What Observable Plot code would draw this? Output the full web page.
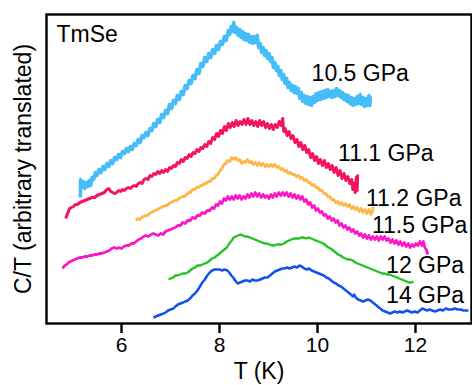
<!DOCTYPE html>
<html>
<head>
<meta charset="utf-8">
<script src="https://cdn.jsdelivr.net/npm/d3@7"></script>
<script src="https://cdn.jsdelivr.net/npm/@observablehq/plot@0.6"></script>
<style>
  html, body { margin: 0; padding: 0; background: #fff; }
</style>
</head>
<body>
<div id="chart"></div>
<script>
// Specific heat C/T of TmSe versus temperature, curves offset vertically by pressure.
// Each series: [T (K), C/T (arbitrary, translated)]
const p105 = [[5.16,126],[5.165,144],[5.19,136],[5.22,142],[5.25,135],[5.28,141],[5.31,137],[5.34,143],[5.37,138],[5.40,146],[5.43,144],[5.47,151],[5.50,148],[5.54,154],[5.58,151],[5.62,157],[5.66,154],[5.70,160],[5.74,157],[5.78,163],[5.82,160],[5.86,166],[5.90,164],[5.94,169],[5.98,166],[6.02,172],[6.06,170],[6.10,175],[6.14,172],[6.18,177],[6.22,174],[6.26,180],[6.30,178],[6.34,184],[6.38,181],[6.42,188],[6.46,186],[6.50,191],[6.54,188],[6.58,195],[6.62,193],[6.66,200],[6.70,197],[6.74,204],[6.78,201],[6.82,209],[6.86,206],[6.90,213],[6.94,210],[6.98,219],[7.02,215],[7.06,223],[7.10,220],[7.14,228],[7.18,224],[7.22,232],[7.26,229],[7.30,238],[7.34,235],[7.38,243],[7.42,240],[7.46,248],[7.50,245],[7.54,254],[7.58,250],[7.62,260],[7.66,257],[7.70,266],[7.74,262],[7.78,270],[7.82,266],[7.86,274],[7.90,270],[7.94,278],[7.98,274],[8.02,282],[8.06,279],[8.10,287],[8.14,283],[8.18,293],[8.21,289],[8.24,297],[8.27,292],[8.29,301],[8.32,291],[8.35,296],[8.38,288],[8.41,294],[8.44,286],[8.47,292],[8.50,284],[8.53,290],[8.56,283],[8.59,289],[8.62,281],[8.65,287],[8.68,280],[8.71,287],[8.74,281],[8.77,288],[8.80,276],[8.83,280],[8.86,271],[8.89,276],[8.92,268],[8.95,273],[8.98,265],[9.01,270],[9.04,262],[9.07,266],[9.10,256],[9.13,261],[9.16,253],[9.19,257],[9.22,248],[9.25,253],[9.28,244],[9.31,249],[9.34,240],[9.37,245],[9.40,236],[9.43,241],[9.46,233],[9.49,238],[9.52,231],[9.55,237],[9.58,230],[9.61,235],[9.64,225],[9.67,231],[9.70,222],[9.73,228],[9.76,220],[9.79,227],[9.82,219],[9.85,226],[9.88,218],[9.91,227],[9.94,221],[9.97,230],[10.00,223],[10.03,231],[10.06,224],[10.09,232],[10.12,225],[10.15,233],[10.18,226],[10.21,234],[10.24,227],[10.27,232],[10.30,226],[10.33,233],[10.36,227],[10.39,235],[10.42,228],[10.45,233],[10.48,226],[10.51,231],[10.54,224],[10.57,229],[10.60,222],[10.63,228],[10.66,220],[10.69,226],[10.72,218],[10.75,225],[10.78,219],[10.81,227],[10.84,220],[10.87,229],[10.90,219],[10.93,226],[10.96,217],[10.99,225],[11.02,218],[11.05,228],[11.07,218],[11.08,227]];

const p111 = [[4.86,105],[4.90,110],[4.94,115],[4.98,116],[5.02,117],[5.06,119],[5.10,119],[5.15,121],[5.20,122],[5.25,123],[5.30,124],[5.35,125],[5.40,126],[5.45,126],[5.50,128],[5.55,129],[5.60,130],[5.65,131],[5.70,134],[5.74,135],[5.78,132],[5.82,131],[5.86,130],[5.90,131],[5.94,133],[5.98,132],[6.02,134],[6.06,133],[6.10,135],[6.14,136],[6.18,135],[6.22,137],[6.26,138],[6.30,137],[6.34,140],[6.38,141],[6.42,140],[6.46,144],[6.50,145],[6.54,144],[6.58,148],[6.62,147],[6.66,150],[6.70,149],[6.74,152],[6.78,150],[6.82,153],[6.86,151],[6.90,154],[6.94,152],[6.98,156],[7.02,155],[7.06,158],[7.10,157],[7.14,161],[7.18,160],[7.22,164],[7.26,162],[7.30,166],[7.34,165],[7.38,169],[7.42,167],[7.46,171],[7.50,170],[7.54,174],[7.58,172],[7.62,176],[7.66,175],[7.70,179],[7.74,177],[7.78,182],[7.82,180],[7.86,186],[7.90,184],[7.94,190],[7.98,187],[8.02,193],[8.06,190],[8.10,197],[8.14,193],[8.18,200],[8.22,196],[8.26,201],[8.30,197],[8.34,203],[8.38,198],[8.42,202],[8.46,199],[8.50,204],[8.54,199],[8.58,205],[8.62,199],[8.66,203],[8.70,198],[8.74,202],[8.78,197],[8.82,203],[8.86,198],[8.90,202],[8.94,196],[8.98,200],[9.02,195],[9.06,199],[9.10,194],[9.14,199],[9.18,196],[9.22,202],[9.26,198],[9.29,205],[9.31,192],[9.34,195],[9.38,188],[9.42,192],[9.46,185],[9.50,188],[9.54,181],[9.58,184],[9.62,177],[9.66,181],[9.70,174],[9.74,178],[9.78,171],[9.82,174],[9.86,166],[9.90,170],[9.94,163],[9.98,167],[10.02,160],[10.06,164],[10.10,158],[10.14,163],[10.18,156],[10.22,160],[10.26,154],[10.30,158],[10.34,151],[10.38,156],[10.42,148],[10.46,153],[10.50,145],[10.54,150],[10.58,143],[10.62,147],[10.66,140],[10.70,144],[10.72,134],[10.75,140],[10.77,131],[10.79,146],[10.81,133],[10.82,149]];

const p112 = [[6.29,103],[6.33,105],[6.37,104],[6.41,106],[6.45,107],[6.49,108],[6.53,108],[6.57,110],[6.61,111],[6.65,112],[6.69,113],[6.73,114],[6.77,115],[6.81,116],[6.85,117],[6.89,118],[6.93,118],[6.97,120],[7.01,121],[7.05,122],[7.09,123],[7.13,123],[7.17,125],[7.21,126],[7.25,127],[7.29,127],[7.33,129],[7.37,131],[7.41,131],[7.45,134],[7.49,134],[7.53,136],[7.57,136],[7.61,138],[7.65,138],[7.69,140],[7.73,140],[7.77,142],[7.81,142],[7.85,145],[7.89,145],[7.93,148],[7.97,149],[8.01,153],[8.05,155],[8.09,159],[8.13,160],[8.17,163],[8.21,162],[8.25,166],[8.29,164],[8.33,166],[8.37,163],[8.41,164],[8.45,160],[8.49,162],[8.53,161],[8.57,164],[8.61,161],[8.65,162],[8.69,159],[8.73,161],[8.77,158],[8.81,161],[8.85,158],[8.89,160],[8.93,157],[8.97,159],[9.01,157],[9.05,159],[9.09,157],[9.13,159],[9.17,156],[9.21,157],[9.25,154],[9.29,155],[9.33,152],[9.37,153],[9.41,150],[9.45,151],[9.49,149],[9.53,149],[9.57,147],[9.61,148],[9.65,145],[9.69,146],[9.73,143],[9.77,144],[9.81,141],[9.85,141],[9.89,138],[9.93,139],[9.97,136],[10.01,136],[10.05,133],[10.09,133],[10.13,130],[10.17,130],[10.21,127],[10.25,127],[10.29,124],[10.33,124],[10.37,121],[10.41,122],[10.45,119],[10.49,121],[10.53,118],[10.57,120],[10.61,117],[10.65,119],[10.69,115],[10.73,117],[10.77,114],[10.81,116],[10.85,112],[10.89,115],[10.93,111],[10.97,114],[11.01,110],[11.05,114],[11.09,109],[11.12,112],[11.14,117]];

const p115 = [[4.80,55],[4.84,58],[4.88,59],[4.92,61],[4.96,62],[5.00,63],[5.05,64],[5.10,65],[5.15,66],[5.20,66],[5.25,67],[5.30,67],[5.35,68],[5.40,68],[5.45,69],[5.50,69],[5.55,70],[5.60,70],[5.65,71],[5.70,72],[5.75,73],[5.80,75],[5.85,76],[5.90,75],[5.95,76],[6.00,75],[6.05,77],[6.10,78],[6.15,78],[6.20,80],[6.25,80],[6.30,82],[6.35,84],[6.40,85],[6.45,87],[6.50,88],[6.55,87],[6.60,89],[6.65,90],[6.70,89],[6.75,88],[6.80,90],[6.85,89],[6.90,92],[6.95,93],[7.00,94],[7.05,95],[7.10,96],[7.15,98],[7.20,98],[7.25,101],[7.30,100],[7.35,103],[7.40,103],[7.45,106],[7.50,105],[7.55,108],[7.60,108],[7.65,111],[7.70,110],[7.75,113],[7.80,113],[7.85,116],[7.89,115],[7.93,119],[7.97,118],[8.01,122],[8.05,120],[8.09,125],[8.13,123],[8.17,127],[8.21,124],[8.25,127],[8.29,124],[8.33,128],[8.37,125],[8.41,128],[8.45,124],[8.49,127],[8.53,125],[8.57,129],[8.61,126],[8.65,130],[8.69,127],[8.73,131],[8.77,127],[8.81,130],[8.85,126],[8.89,129],[8.93,126],[8.97,128],[9.01,125],[9.05,129],[9.09,126],[9.13,130],[9.17,127],[9.21,131],[9.25,128],[9.29,131],[9.33,128],[9.37,131],[9.41,127],[9.45,130],[9.49,126],[9.53,129],[9.57,125],[9.61,128],[9.65,124],[9.69,127],[9.73,122],[9.77,124],[9.81,119],[9.85,121],[9.89,116],[9.93,118],[9.97,113],[10.01,115],[10.05,111],[10.09,112],[10.13,108],[10.17,109],[10.21,105],[10.25,107],[10.29,103],[10.33,105],[10.37,101],[10.41,103],[10.45,98],[10.49,100],[10.53,96],[10.57,98],[10.61,94],[10.65,96],[10.69,92],[10.73,94],[10.77,90],[10.81,92],[10.85,88],[10.89,90],[10.93,86],[10.97,89],[11.01,85],[11.05,88],[11.09,84],[11.13,87],[11.17,84],[11.21,87],[11.25,83],[11.29,87],[11.33,84],[11.37,87],[11.41,83],[11.45,85],[11.49,81],[11.53,84],[11.57,80],[11.61,83],[11.65,79],[11.69,82],[11.73,78],[11.77,81],[11.81,77],[11.85,80],[11.89,76],[11.93,79],[11.97,77],[12.01,80],[12.05,78],[12.09,82],[12.13,78],[12.16,82],[12.19,76],[12.22,74],[12.25,69]];

const p120 = [[6.96,44],[7.00,45],[7.05,46],[7.10,48],[7.14,48],[7.20,49],[7.25,50],[7.30,50],[7.35,51],[7.40,53],[7.45,55],[7.50,56],[7.55,58],[7.60,58],[7.65,59],[7.70,60],[7.75,61],[7.80,63],[7.85,65],[7.90,66],[7.95,68],[8.00,70],[8.05,72],[8.10,74],[8.15,76],[8.20,80],[8.25,83],[8.29,86],[8.33,87],[8.38,88],[8.43,89],[8.48,88],[8.52,87],[8.57,87],[8.62,86],[8.67,85],[8.72,84],[8.77,83],[8.82,82],[8.87,81],[8.92,80],[8.97,80],[9.02,79],[9.07,78],[9.12,78],[9.17,79],[9.22,79],[9.27,79],[9.32,80],[9.37,82],[9.42,83],[9.47,84],[9.52,85],[9.57,85],[9.62,85],[9.67,86],[9.72,86],[9.77,85],[9.82,86],[9.87,85],[9.92,84],[9.97,83],[10.02,82],[10.07,81],[10.12,80],[10.17,78],[10.22,76],[10.27,75],[10.32,73],[10.37,71],[10.42,69],[10.47,68],[10.52,66],[10.57,65],[10.62,64],[10.67,64],[10.72,63],[10.77,61],[10.82,60],[10.87,59],[10.92,58],[10.97,57],[11.02,56],[11.07,55],[11.12,54],[11.17,53],[11.22,52],[11.27,51],[11.32,50],[11.37,50],[11.42,49],[11.47,49],[11.52,48],[11.57,47],[11.62,46],[11.67,45],[11.72,44],[11.77,43],[11.82,42],[11.87,41],[11.92,41],[11.96,42]];

const p140 = [[6.65,6],[6.70,7],[6.75,8],[6.80,9],[6.86,10],[6.90,11],[6.95,13],[7.00,14],[7.06,15],[7.10,17],[7.15,19],[7.20,20],[7.26,21],[7.30,22],[7.35,23],[7.40,25],[7.45,28],[7.50,30],[7.55,33],[7.60,37],[7.65,41],[7.70,44],[7.75,48],[7.80,51],[7.85,53],[7.90,54],[7.95,54],[8.00,54],[8.05,53],[8.10,54],[8.16,53],[8.20,51],[8.24,48],[8.28,46],[8.32,43],[8.37,40],[8.42,41],[8.47,42],[8.52,43],[8.57,43],[8.62,42],[8.67,44],[8.72,43],[8.78,43],[8.83,44],[8.88,45],[8.93,46],[8.98,46],[9.03,48],[9.08,50],[9.13,52],[9.18,53],[9.23,54],[9.28,55],[9.33,55],[9.38,56],[9.43,55],[9.48,56],[9.53,57],[9.58,56],[9.63,58],[9.68,57],[9.73,55],[9.78,54],[9.83,55],[9.88,53],[9.93,52],[9.98,51],[10.03,50],[10.08,49],[10.13,48],[10.18,46],[10.23,45],[10.28,43],[10.33,41],[10.38,40],[10.43,38],[10.48,37],[10.53,35],[10.58,33],[10.63,31],[10.68,29],[10.72,27],[10.75,29],[10.78,26],[10.83,24],[10.88,23],[10.93,22],[10.98,23],[11.03,24],[11.08,23],[11.13,21],[11.18,19],[11.23,17],[11.28,15],[11.33,13],[11.38,12],[11.43,11],[11.48,10],[11.53,11],[11.58,12],[11.63,11],[11.68,12],[11.73,11],[11.78,12],[11.83,13],[11.88,12],[11.93,11],[11.98,12],[12.04,11],[12.09,13],[12.14,15],[12.19,14],[12.24,13],[12.29,14],[12.34,13],[12.40,12],[12.45,13],[12.50,14],[12.56,13],[12.62,15],[12.68,14],[12.74,14],[12.80,15],[12.86,14],[12.92,14],[12.98,13],[13.04,13],[13.08,13]];

// Pressure labels and where each one sits (data units, left end of the text)
const pressures = ["10.5 GPa", "11.1 GPa", "11.2 GPa", "11.5 GPa", "12 GPa", "14 GPa"];
const labelT = [9.88, 10.42, 10.99, 11.11, 11.40, 11.40];
const labelC = [250, 170, 125, 98, 58, 28];
const xTicks = [6, 8, 10, 12];

const colors = ["#45bdf8", "#f5135f", "#ffb645", "#fc16c8", "#20c41f", "#1250ef"];
const widths = [3.6, 3.0, 2.8, 2.8, 2.3, 2.5];
const seriesData = [p105, p111, p112, p115, p120, p140];

const rows = seriesData.flatMap((pts, i) =>
  pts.map(([T, C]) => ({T, C, series: pressures[i]}))
);
const labels = pressures.map((name, i) => ({name, T: labelT[i], C: labelC[i]}));

const font = "'Liberation Sans', Arial, Helvetica, sans-serif";

const chart = Plot.plot({
  width: 472,
  height: 385,
  marginLeft: 46,
  marginRight: 1,
  marginTop: 14,
  marginBottom: 62,
  style: {fontFamily: font, fontSize: "22px", background: "#fff", color: "#000"},
  x: {domain: [4.469, 13.143]},
  y: {domain: [0, 309], axis: null},
  marks: [
    ...seriesData.map((pts, i) =>
      Plot.line(rows.filter(d => d.series === pressures[i]), {
        x: "T", y: "C", stroke: colors[i], strokeWidth: widths[i],
        strokeLinejoin: "round", strokeLinecap: "butt"
      })
    ),
    Plot.text(labels, {
      x: "T", y: "C", text: "name", textAnchor: "start", lineAnchor: "middle",
      fontSize: 23, fill: "#000"
    }),
    Plot.frame({stroke: "#000", strokeWidth: 2.4}),
    Plot.axisX({
      ticks: xTicks, tickSize: 10, tickPadding: 4, strokeWidth: 2.4,
      fontSize: 21, label: null, tickFormat: d => String(d)
    }),
    Plot.text(["T (K)"], {
      frameAnchor: "bottom", dy: 48, textAnchor: "middle", lineAnchor: "middle",
      fontSize: 23, fill: "#000"
    }),
    Plot.text(["C/T (arbitrary translated)"], {
      frameAnchor: "left", dx: -23, rotate: -90, textAnchor: "middle",
      lineAnchor: "middle", fontSize: 23, fill: "#000"
    }),
    Plot.text(["TmSe"], {
      frameAnchor: "top-left", dx: 10, dy: 11, lineAnchor: "top",
      textAnchor: "start", fontSize: 23, fill: "#000"
    })
  ]
});

document.getElementById("chart").appendChild(chart);
</script>
</body>
</html>
